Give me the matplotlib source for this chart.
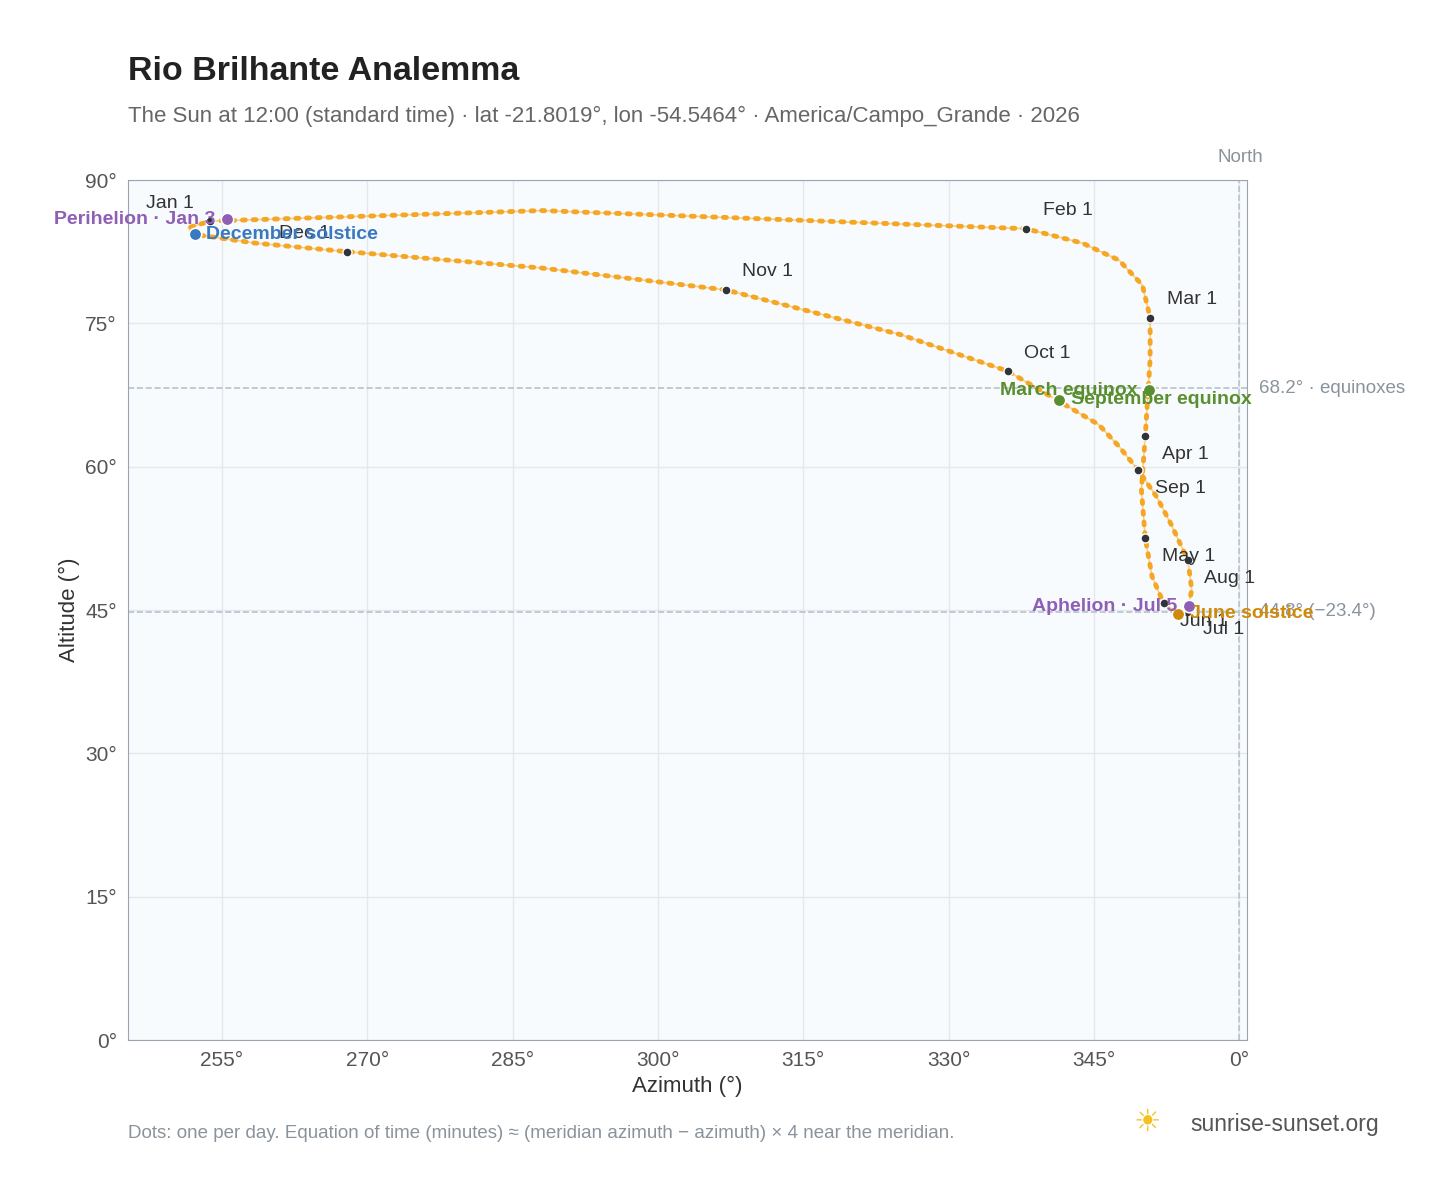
import matplotlib
matplotlib.use("Agg")
import matplotlib.pyplot as plt
plt.rcParams['font.family'] = ['Liberation Sans', 'DejaVu Sans']

# path samples (date label, azimuth, altitude)
dates = ["Jan 1","Jan 15","Feb 1","Feb 8","Feb 15","Feb 22","Mar 1","Mar 15","Apr 1","Apr 15","May 1","May 15",
         "Jun 1","Jun 21","Jul 1","Jul 15","Aug 1","Aug 15","Aug 24","Sep 1","Sep 8","Sep 15","Oct 1","Oct 15",
         "Nov 1","Nov 15","Dec 1","Dec 15","Dec 21","Dec 31"]
az = [253.8,288.0,338.0,343.8,347.6,350.0,350.8,350.8,350.3,349.9,350.3,351.0,
      352.2,353.7,354.6,355.1,354.7,353.0,351.5,349.6,347.6,345.5,336.1,325.1,
      307.0,287.9,267.9,258.4,252.2,251.5]
alt = [85.7,86.8,84.9,83.4,81.6,79.0,75.6,71.2,63.2,57.6,52.5,48.5,
       45.7,44.6,44.8,47.1,50.2,53.9,56.8,59.6,62.1,64.4,70.0,73.8,
       78.5,80.8,82.5,83.4,84.3,85.0]
month_labels = ["Jan 1","Feb 1","Mar 1","Apr 1","May 1","Jun 1","Jul 1","Aug 1","Sep 1","Oct 1","Nov 1","Dec 1"]
events = [("Perihelion · Jan 3",255.5,85.9,"#8e5fb5","left"),
          ("March equinox",350.7,68.0,"#5a8f2f","left"),
          ("June solstice",353.7,44.6,"#d08a0a","right"),
          ("Aphelion · Jul 5",354.8,45.4,"#8e5fb5","left"),
          ("September equinox",341.4,67.0,"#5a8f2f","right"),
          ("December solstice",252.2,84.3,"#3a78c0","right")]
equinox_alt = 68.2
solstice_alt = 44.8

fig = plt.figure(figsize=(14.48,11.88), dpi=100)
ax = fig.add_axes([128/1448, 1-1040/1188, (1247-128)/1448, (1040-180)/1188])
ax.set_facecolor("#f8fbfe")
ax.set_xlim(245.3, 360.8); ax.set_ylim(0, 90)
ax.set_xticks([255,270,285,300,315,330,345,360])
ax.set_xticklabels(["255°","270°","285°","300°","315°","330°","345°","0°"])
ax.set_yticks([0,15,30,45,60,75,90])
ax.set_yticklabels([f"{v}°" for v in [0,15,30,45,60,75,90]])
ax.grid(color="#e4e8ee", lw=1)
ax.tick_params(colors="#555", labelsize=15, length=0, pad=8)
for s in ax.spines.values(): s.set_color("#9aa4b0")
ax.set_xlabel("Azimuth (°)", fontsize=16, color="#333")
ax.set_ylabel("Altitude (°)", fontsize=16, color="#333")

ax.axhline(equinox_alt, color="#b8c2cc", ls="--", lw=1.2)
ax.axhline(solstice_alt, color="#b8c2cc", ls="--", lw=1.2)
ax.axvline(360, color="#b8c2cc", ls="--", lw=1.2)
ax.text(362.0, equinox_alt, f"{equinox_alt}° · equinoxes", color="#8a939c", fontsize=13.5, va="center", clip_on=False)
ax.text(362.0, solstice_alt, f"{solstice_alt}° (−23.4°)", color="#8a939c", fontsize=13.5, va="center", clip_on=False)
ax.text(362.5, 91.5, "North", color="#8a939c", fontsize=13.5, ha="right", va="bottom", clip_on=False)

xs = az + [az[0]]; ys = alt + [alt[0]]
ax.plot(xs, ys, color="#f5a623", lw=3.5, ls=(0,(0.6,1.6)), dash_capstyle="round", zorder=3)
ax.plot(xs, ys, color="#f5a623", lw=1.2, alpha=0.5, zorder=2)

up_left = {"Jan 1", "Dec 1"}
up_right = {"Feb 1", "Mar 1", "Oct 1", "Nov 1"}
for d, x, y in zip(dates, az, alt):
    if d in month_labels:
        ax.plot(x, y, "o", color="#2f343a", ms=6.5, mec="white", mew=1, zorder=5)
        if d in up_left:
            ax.text(x-1.7, y+1.0, d, fontsize=14, color="#333", ha="right", va="bottom", zorder=6)
        elif d in up_right:
            ax.text(x+1.7, y+1.0, d, fontsize=14, color="#333", ha="left", va="bottom", zorder=6)
        else:
            ax.text(x+1.7, y-1.0, d, fontsize=14, color="#333", ha="left", va="top", zorder=6)
for name, x, y, c, side in events:
    ax.plot(x, y, "o", color=c, ms=9, mec="white", mew=1.2, zorder=6)
    dx = -1.2 if side == "left" else 1.2
    ax.text(x+dx, y, name, color=c, fontsize=14, fontweight="bold", va="center",
            ha="right" if side=="left" else "left", zorder=7)

fig.text(128/1448, 1-72/1188, "Rio Brilhante Analemma", fontsize=24.5, fontweight="bold", color="#222", va="center")
fig.text(128/1448, 1-116/1188, "The Sun at 12:00 (standard time) · lat -21.8019°, lon -54.5464° · America/Campo_Grande · 2026",
         fontsize=16, color="#666", va="center")
fig.text(128/1448, 1-1134/1188, "Dots: one per day. Equation of time (minutes) ≈ (meridian azimuth − azimuth) × 4 near the meridian.",
         fontsize=13.5, color="#8a939c", va="center")
fig.text(1190/1448, 1-1125/1188, "sunrise-sunset.org", fontsize=16.5, color="#555", va="center")
fig.text(1147/1448, 1-1122/1188, "☀", fontsize=22, color="#f5c020", va="center", ha="center", family="DejaVu Sans")
fig.savefig("out.png", dpi=100)
